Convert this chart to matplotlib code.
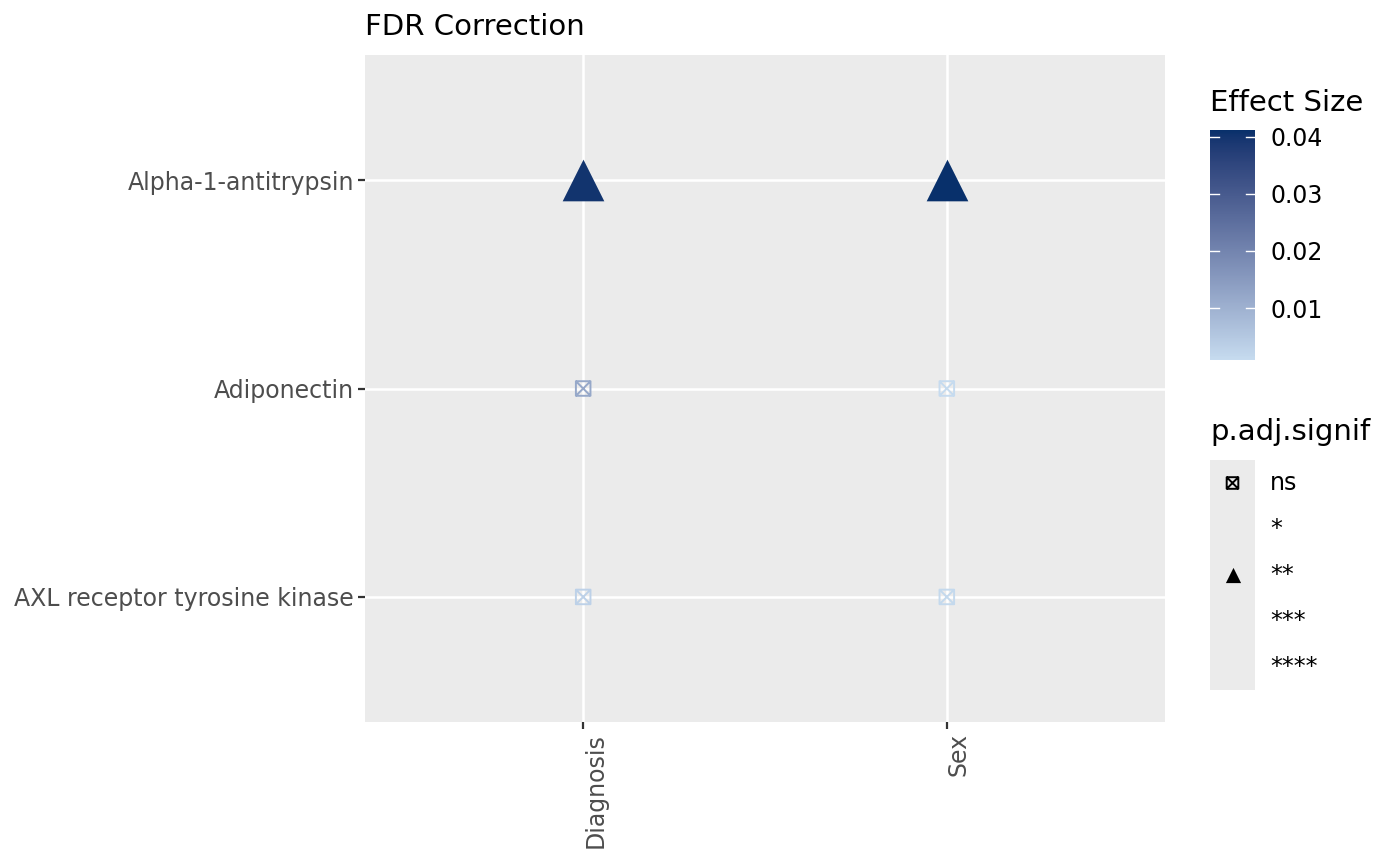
import matplotlib
matplotlib.use("Agg")
import numpy as np
import matplotlib.pyplot as plt
from matplotlib.path import Path
from matplotlib.colors import ListedColormap, Normalize, to_rgb
import matplotlib.colorbar as mcolorbar

# data
variables = ['Diagnosis', 'Sex']
analytes = ['AXL receptor tyrosine kinase', 'Adiponectin', 'Alpha-1-antitrypsin']
effect_diagnosis = [0.0030, 0.0120, 0.0400]
effect_sex = [0.0015, 0.0010, 0.0412]
signif_diagnosis = ['ns', 'ns', '**']
signif_sex = ['ns', 'ns', '**']
signif_levels = ['ns', '*', '**', '***', '****']

# square with a cross (ggplot shape 7)
boxcross = Path([(-1, -1), (1, -1), (1, 1), (-1, 1), (-1, -1), (-1, -1), (1, 1), (-1, 1), (1, -1)],
                [Path.MOVETO, Path.LINETO, Path.LINETO, Path.LINETO, Path.CLOSEPOLY,
                 Path.MOVETO, Path.LINETO, Path.MOVETO, Path.LINETO])
shapes = {'ns': boxcross, '**': '^'}
sizes = {'ns': 110, '**': 900}


# gradient interpolated in Lab space, like ggplot's scale_colour_gradient
def rgb2lab(c):
    c = np.array(c)
    c = np.where(c > 0.04045, ((c + 0.055) / 1.055) ** 2.4, c / 12.92)
    m = np.array([[0.4124, 0.3576, 0.1805], [0.2126, 0.7152, 0.0722], [0.0193, 0.1192, 0.9505]])
    xyz = m @ c / np.array([0.95047, 1.0, 1.08883])
    f = np.where(xyz > 0.008856, np.cbrt(xyz), 7.787 * xyz + 16 / 116)
    return np.array([116 * f[1] - 16, 500 * (f[0] - f[1]), 200 * (f[1] - f[2])])


def lab2rgb(lab):
    fy = (lab[0] + 16) / 116
    fx = fy + lab[1] / 500
    fz = fy - lab[2] / 200
    f = np.array([fx, fy, fz])
    xyz = np.where(f ** 3 > 0.008856, f ** 3, (f - 16 / 116) / 7.787) * np.array([0.95047, 1.0, 1.08883])
    m = np.array([[3.2406, -1.5372, -0.4986], [-0.9689, 1.8758, 0.0415], [0.0557, -0.2040, 1.0570]])
    c = m @ xyz
    c = np.where(c > 0.0031308, 1.055 * np.clip(c, 0, None) ** (1 / 2.4) - 0.055, 12.92 * c)
    return np.clip(c, 0, 1)


low, high = rgb2lab(to_rgb('#c6dbef')), rgb2lab(to_rgb('#08306b'))
cmap = ListedColormap([lab2rgb(low + t * (high - low)) for t in np.linspace(0, 1, 256)])
norm = Normalize(vmin=0.0009, vmax=0.0412)

W, H = 1400, 866
fig = plt.figure(figsize=(14, 8.66), dpi=100)
ax = fig.add_axes([365 / W, 1 - 722 / H, 800 / W, 667 / H])
ax.set_facecolor('#ebebeb')
for s in ax.spines.values():
    s.set_visible(False)

for xi, (effects, signifs) in enumerate([(effect_diagnosis, signif_diagnosis), (effect_sex, signif_sex)]):
    for yi, (e, sg) in enumerate(zip(effects, signifs)):
        col = cmap(norm(e))
        if sg == 'ns':
            ax.scatter([xi], [yi], marker=shapes[sg], s=sizes[sg], facecolors='none',
                       edgecolors=[col], linewidths=1.4, zorder=3)
        else:
            ax.scatter([xi], [yi], marker=shapes[sg], s=sizes[sg], color=col,
                       linewidths=0, zorder=3)

ax.set_xlim(-0.6, len(variables) - 0.4)
ax.set_ylim(-0.6, len(analytes) - 0.4)
ax.set_xticks(range(len(variables)))
ax.set_xticklabels(variables, rotation=90, ha='left')
ax.set_yticks(range(len(analytes)))
ax.set_yticklabels(analytes)
ax.grid(True, color='white', linewidth=1.8)
ax.set_axisbelow(True)
ax.tick_params(colors='#333333', labelcolor='#4d4d4d', labelsize=17, length=5, width=1.6, pad=3)

fig.text(365 / W, 1 - 27 / H, 'FDR Correction', fontsize=21, va='center', ha='left')

# colourbar
cax = fig.add_axes([1210 / W, 1 - 360 / H, 45 / W, 230 / H])
cb = mcolorbar.ColorbarBase(cax, cmap=cmap, norm=norm, orientation='vertical')
cb.outline.set_visible(False)
cb.set_ticks([0.01, 0.02, 0.03, 0.04])
cb.set_ticklabels(['0.01', '0.02', '0.03', '0.04'])
cax.tick_params(length=0, labelsize=17, pad=11)
for t in [0.01, 0.02, 0.03, 0.04]:
    cax.plot([0, 0.2], [t, t], color='white', lw=1, transform=cax.get_yaxis_transform())
    cax.plot([0.8, 1], [t, t], color='white', lw=1, transform=cax.get_yaxis_transform())
fig.text(1210 / W, 1 - 103 / H, 'Effect Size', fontsize=21, va='center', ha='left')

# shape legend
lax = fig.add_axes([1210 / W, 1 - 690 / H, 45 / W, 230 / H])
lax.set_facecolor('#ebebeb')
for s in lax.spines.values():
    s.set_visible(False)
lax.set_xticks([])
lax.set_yticks([])
lax.set_xlim(0, 1)
lax.set_ylim(len(signif_levels), 0)
for i, lev in enumerate(signif_levels):
    if lev in shapes:
        if lev == 'ns':
            lax.scatter([0.5], [i + 0.5], marker=shapes[lev], s=70, facecolors='none',
                        edgecolors='black', linewidths=1.4)
        else:
            lax.scatter([0.5], [i + 0.5], marker=shapes[lev], s=120, color='black', linewidths=0)
    lax.text(1.33, i + 0.5, lev, fontsize=17, va='center', ha='left', clip_on=False)
fig.text(1210 / W, 1 - 432 / H, 'p.adj.signif', fontsize=21, va='center', ha='left')

fig.savefig('out.png', dpi=100)
